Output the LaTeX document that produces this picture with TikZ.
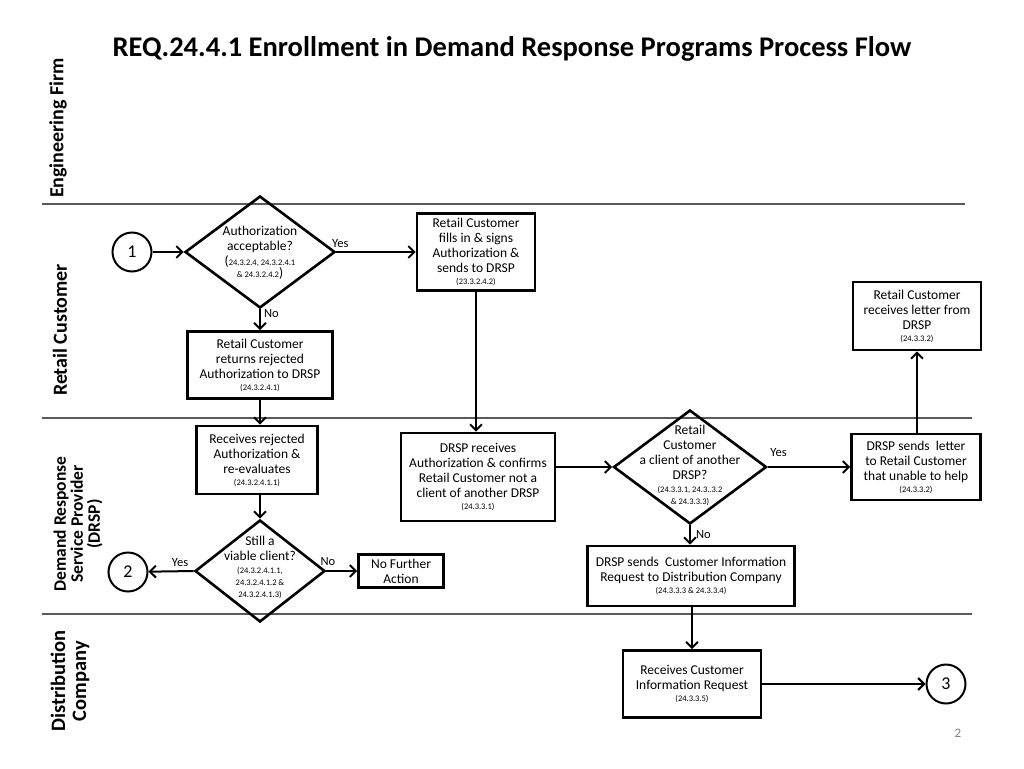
\documentclass[tikz,border=0pt]{standalone}
\usepackage{fontspec}
\setmainfont{Carlito}
\usetikzlibrary{shapes.geometric,arrows.meta}
\newcommand{\refsm}[1]{{\fontsize{8.5}{10}\selectfont #1}}
\newcommand{\refno}[1]{\refsm{(#1)}}
\begin{document}
\begin{tikzpicture}[x=1pt,y=-1pt]
    \tikzstyle{box}=[draw=black, line width=2.6pt, align=center, inner sep=2pt, font=\fontsize{13.5}{15}\selectfont];
    \tikzstyle{dia}=[draw=black, line width=2.6pt, diamond, inner sep=0pt];
    \tikzstyle{txt}=[align=center, inner sep=0pt, font=\fontsize{13.5}{15}\selectfont];
    \tikzstyle{conn}=[draw=black, circle, line width=2pt, minimum size=39pt, inner sep=0pt, font=\fontsize{18}{20}\selectfont];
    \tikzstyle{lane}=[rotate=90, align=center, font=\bfseries\fontsize{20}{22}\selectfont];
    \tikzstyle{lbl}=[inner sep=0pt, font=\fontsize{12.5}{14}\selectfont];
    \tikzstyle{arr}=[line width=2pt, -{Straight Barb[length=6pt,width=12pt,line width=2pt]}];
    \useasboundingbox (0,0) rectangle (1024,768);

    % title and swim lanes
	\node (title) at (512, 49) [font=\bfseries\fontsize{28.5}{31}\selectfont] {REQ.24.4.1 Enrollment in Demand Response Programs Process Flow};
	\draw[gray!70!black, line width=1.2pt] (42, 204) -- (965, 204);
	\draw[gray!70!black, line width=1.2pt] (42, 418) -- (972, 418);
	\draw[gray!70!black, line width=1.2pt] (42, 614) -- (972, 614);
	\node (engfirm) at (58, 128) [lane] {Engineering Firm};
	\node (retail) at (60, 330) [lane] {Retail Customer};
	\node (drsp) at (78, 524) [lane, font=\bfseries\fontsize{17.5}{17}\selectfont] {Demand Response\\Service Provider\\(DRSP)};
	\node (distco) at (70, 681) [lane, font=\bfseries\fontsize{20.5}{21}\selectfont] {Distribution\\Company};

    % retail customer lane
	\node (c1) at (132, 252) [conn] {1};
	\node (d1) at (260, 252) [dia, minimum width=150pt, minimum height=112pt] {};
	\node (d1t) at (260, 253) [txt] {Authorization\\acceptable?\\(\refsm{24.3.2.4, 24.3.2.4.1}\\[-3pt]\refsm{\& 24.3.2.4.2})};
	\node (b2) at (476, 252) [box, minimum width=118pt, minimum height=77pt] {Retail Customer\\fills in \& signs\\Authorization \&\\sends to DRSP\\[-3pt]\refno{23.3.2.4.2}};
	\node (b3) at (260, 365) [box, minimum width=145pt, minimum height=67pt] {Retail Customer\\returns rejected\\Authorization to DRSP\\[-3pt]\refno{24.3.2.4.1}};
	\node (b7) at (917, 316) [box, minimum width=128pt, minimum height=68pt] {Retail Customer\\receives letter from\\DRSP\\[-3pt]\refno{24.3.3.2}};

    % drsp lane
	\node (b4) at (257, 460) [box, minimum width=121pt, minimum height=68pt] {Receives rejected\\Authorization \&\\re-evaluates\\[-3pt]\refno{24.3.2.4.1.1}};
	\node (d2) at (260, 571) [dia, minimum width=130pt, minimum height=102pt] {};
	\node (d2t) at (260, 567) [txt] {Still a\\viable client?\\[-2pt]\refsm{(24.3.2.4.1.1,}\\[-3pt]\refsm{24.3.2.4.1.2 \&}\\[-3pt]\refsm{24.3.2.4.1.3)}};
	\node (c2) at (128, 572) [conn] {2};
	\node (nfa) at (401, 571) [box, minimum width=85pt, minimum height=33pt] {No Further\\Action};
	\node (b5) at (478, 477) [box, minimum width=154pt, minimum height=88pt] {DRSP receives\\Authorization \& confirms\\Retail Customer not a\\client of another DRSP\\[-3pt]\refno{24.3.3.1}};
	\node (d3) at (690, 467) [dia, minimum width=153pt, minimum height=114pt] {};
	\node (d3t) at (690, 465) [txt] {Retail\\Customer\\a client of another\\DRSP?\\[-2pt]\refsm{(24.3.3.1, 24.3..3.2}\\[-3pt]\refsm{\& 24.3.3.3)}};
	\node (b6) at (916, 467) [box, minimum width=129pt, minimum height=66pt] {DRSP sends\ \ letter\\to Retail Customer\\that unable to help\\[-3pt]\refno{24.3.3.2}};
	\node (b8) at (691, 576) [box, minimum width=207pt, minimum height=60pt] {DRSP sends\ \ Customer Information\\Request to Distribution Company\\[-3pt]\refno{24.3.3.3 \& 24.3.3.4}};

    % distribution company lane
	\node (b9) at (692, 684) [box, minimum width=138pt, minimum height=67pt] {Receives Customer\\Information Request\\[-3pt]\refno{24.3.3.5}};
	\node (c3) at (946, 684) [conn] {3};

    % connectors
	\draw[arr] (c1) -- (d1);
	\draw[arr] (d1) -- node[lbl, above, yshift=3pt, pos=0.05] {Yes} (b2);
	\draw[arr] (d1.south) -- node[lbl, right, xshift=3pt, pos=0.2] {No} (b3.north);
	\draw[arr] (d1 |- b3.south) -- (d1 |- b4.north);
	\draw[arr] (d2 |- b4.south) -- (d2.north);
	\draw[arr] (d2.west) -- node[lbl, above, yshift=4pt, pos=0.3] {Yes} (c2);
	\draw[arr] (d2.east) -- node[lbl, above, yshift=4pt, pos=0.05] {No} (nfa.west |- d2.east);
	\draw[arr] (b2.south) -- (b2.south |- b5.north);
	\draw[arr] (b5.east |- d3.west) -- (d3.west);
	\draw[arr] (d3.east) -- node[lbl, above, yshift=9pt, pos=0.13] {Yes} (b6.west |- d3.east);
	\draw[arr] (b7 |- b6.north) -- (b7.south);
	\draw[arr] (d3.south) -- node[lbl, right, xshift=5pt, pos=0.45] {No} (d3 |- b8.north);
	\draw[arr] (b8.south -| b9) -- (b9.north);
	\draw[arr] (b9.east) -- (c3);

	\node (page) at (958, 733) [text=gray, font=\fontsize{13}{15}\selectfont] {2};
\end{tikzpicture}
\end{document}
